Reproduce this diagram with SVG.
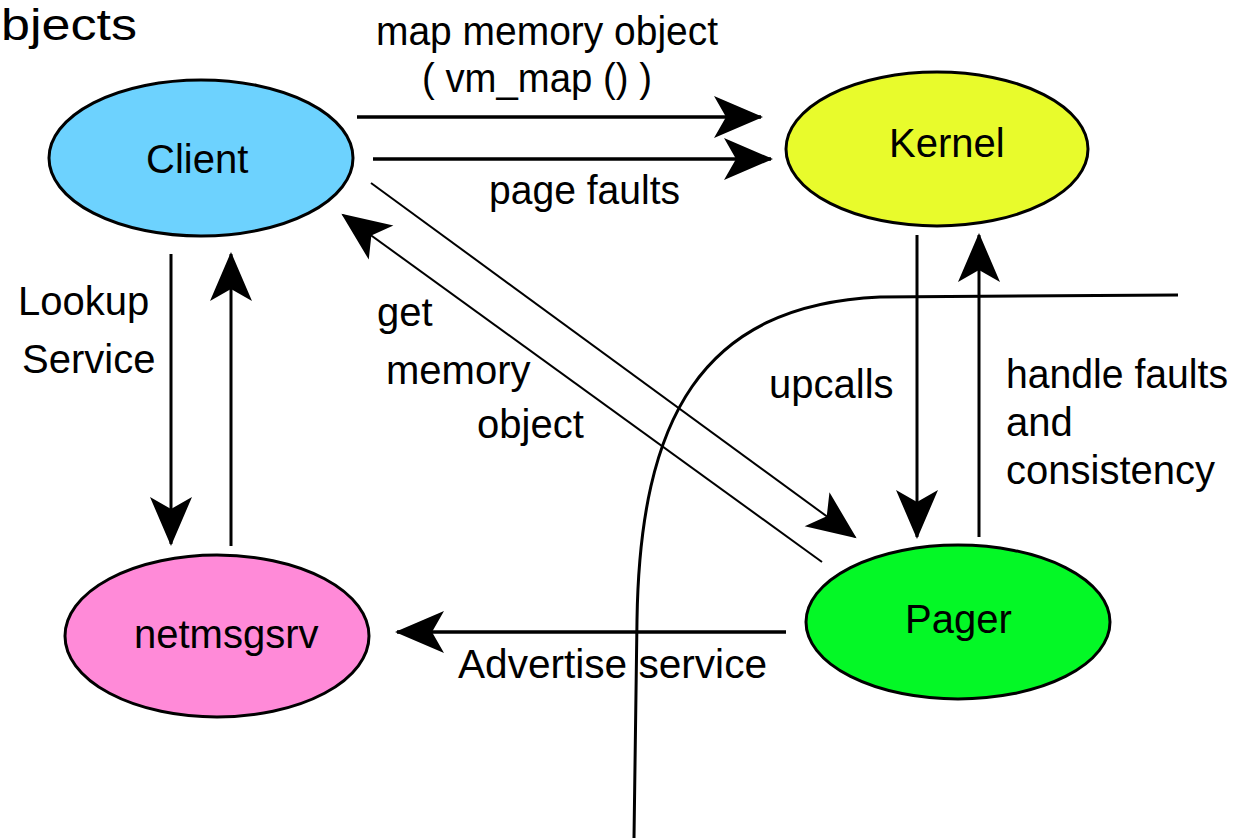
<svg xmlns="http://www.w3.org/2000/svg" width="1234" height="838" viewBox="0 0 1234 838">
<style>
.node{stroke:#000;stroke-width:3}
.lbl{font-family:"Liberation Sans",Arial,sans-serif;font-size:40px;fill:#000}
.c{fill:none;stroke:#000}
.thick{stroke-width:3.5}
.mid{stroke-width:3}
.thin{stroke-width:2}
</style>
<defs>
<marker id="ah" viewBox="-50 -25 55 50" markerWidth="55" markerHeight="50" refX="0" refY="0" orient="auto" markerUnits="userSpaceOnUse">
<path d="M2,0 L-47,-21 L-35,0 L-47,21 Z" fill="#000"/>
</marker>
</defs>
<rect width="1234" height="838" fill="#fff"/>
<text class="lbl" x="1" y="40" style="font-size:44px" textLength="136" lengthAdjust="spacingAndGlyphs">bjects</text>
<g id="connectors">
<line class="c thick" x1="357" y1="117" x2="761" y2="117" marker-end="url(#ah)"/>
<line class="c thick" x1="373" y1="159" x2="771" y2="159" marker-end="url(#ah)"/>
<line class="c thin" x1="371" y1="183" x2="855" y2="537" marker-end="url(#ah)"/>
<line class="c thin" x1="822" y1="562" x2="343" y2="215" marker-end="url(#ah)"/>
<line class="c mid" x1="171" y1="254" x2="171" y2="544" marker-end="url(#ah)"/>
<line class="c mid" x1="231" y1="546" x2="231" y2="254" marker-end="url(#ah)"/>
<line class="c mid" x1="917" y1="235" x2="917" y2="537" marker-end="url(#ah)"/>
<line class="c mid" x1="979" y1="537" x2="979" y2="235" marker-end="url(#ah)"/>
<line class="c thick" x1="786" y1="632" x2="397" y2="632" marker-end="url(#ah)"/>
<path class="c mid" d="M1178,295 L880,297 C700,305 640,420 637,620 L634,838"/>
</g>
<g id="client">
<ellipse class="node" cx="201" cy="158" rx="152" ry="78" fill="#6dd2fe"/>
<text class="lbl" x="146" y="173">Client</text>
</g>
<g id="kernel">
<ellipse class="node" cx="937" cy="149" rx="151" ry="77" fill="#e8fb2c"/>
<text class="lbl" x="889" y="157">Kernel</text>
</g>
<g id="pager">
<ellipse class="node" cx="958" cy="622" rx="152" ry="77" fill="#04f826"/>
<text class="lbl" x="905" y="633">Pager</text>
</g>
<g id="netmsgsrv">
<ellipse class="node" cx="217" cy="636" rx="152" ry="81" fill="#ff8ad8"/>
<text class="lbl" x="134" y="648">netmsgsrv</text>
</g>
<g id="labels">
<text class="lbl" x="376" y="45" textLength="342" lengthAdjust="spacingAndGlyphs">map memory object</text>
<text class="lbl" x="422" y="92" textLength="230" lengthAdjust="spacingAndGlyphs">( vm_map () )</text>
<text class="lbl" x="489" y="204" textLength="191" lengthAdjust="spacingAndGlyphs">page faults</text>
<text class="lbl" x="18" y="315">Lookup</text>
<text class="lbl" x="22" y="373">Service</text>
<text class="lbl" x="377" y="326">get</text>
<text class="lbl" x="386" y="384">memory</text>
<text class="lbl" x="477" y="438">object</text>
<text class="lbl" x="769" y="398">upcalls</text>
<text class="lbl" x="1006" y="388" textLength="222" lengthAdjust="spacingAndGlyphs">handle faults</text>
<text class="lbl" x="1006" y="436">and</text>
<text class="lbl" x="1006" y="484">consistency</text>
<text class="lbl" x="458" y="678" textLength="309" lengthAdjust="spacingAndGlyphs">Advertise service</text>
</g>
</svg>
